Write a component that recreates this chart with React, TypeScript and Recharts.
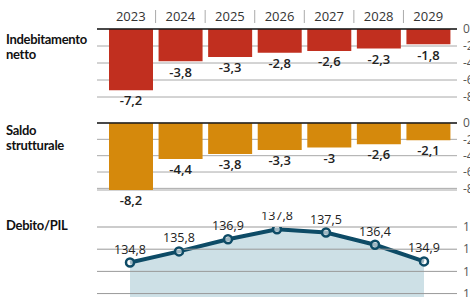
import React from 'react';
import {
  BarChart,
  Bar,
  ComposedChart,
  Area,
  XAxis,
  YAxis,
  CartesianGrid,
  ReferenceLine,
  LabelList,
} from 'recharts';

// Data
const years = ['2023', '2024', '2025', '2026', '2027', '2028', '2029'];
const indebitamento = [-7.2, -3.8, -3.3, -2.8, -2.6, -2.3, -1.8];
const saldoStrutturale = [-8.2, -4.4, -3.8, -3.3, -3, -2.6, -2.1];
const debitoPil = [134.8, 135.8, 136.9, 137.8, 137.5, 136.4, 134.9];
const barTicks = [0, -2, -4, -6, -8];
const debtTicks = [132, 134, 136, 138];

const barData = years.map((year, i) => ({
  year,
  indebitamento: indebitamento[i],
  saldo: saldoStrutturale[i],
}));
const lineData = years.map((year, i) => ({ year, debito: debitoPil[i] }));

const FONT = '"Open Sans", sans-serif';
const RED = '#c12f1f';
const ORANGE = '#d5890c';
const TEAL = '#0d4b66';
const GRID = '#a8a8a8';

const fmt = (v: any) => String(v).replace('.', ',');

// Year header tick with a separator on the right of each label
const YearTick = (props: any) => {
  const { x, y, payload, index } = props;
  return (
    <g>
      <text x={x} y={y} textAnchor="middle" fontSize={13} fill="#333" fontFamily={FONT}>
        {payload.value}
      </text>
      {index < years.length - 1 && (
        <line x1={x + 24.8} x2={x + 24.8} y1={y - 11} y2={y + 2} stroke="#aaa" strokeWidth={1} />
      )}
    </g>
  );
};

const titleStyle: React.CSSProperties = {
  position: 'absolute',
  left: 6,
  fontFamily: 'Lato, sans-serif',
  fontWeight: 700,
  fontSize: 13,
  lineHeight: '15px',
  color: '#111',
  letterSpacing: -0.3,
};

const rightTick = { fontSize: 12, fill: '#555', fontFamily: FONT };

const barLabelStyle = {
  fontSize: 13,
  fontWeight: 600,
  fill: '#222',
  fontFamily: FONT,
};

const App: React.FC = () => {
  return (
    <div
      style={{
        position: 'absolute',
        left: 0,
        top: 0,
        width: 470,
        height: 297,
        overflow: 'hidden',
        background: '#fff',
      }}
    >
      <div style={{ ...titleStyle, top: 32 }}>
        Indebitamento
        <br />
        netto
      </div>
      <div style={{ ...titleStyle, top: 123 }}>
        Saldo
        <br />
        strutturale
      </div>
      <div style={{ ...titleStyle, top: 218 }}>Debito/PIL</div>

      {/* Indebitamento netto */}
      <div style={{ position: 'absolute', left: 0, top: 0 }}>
        <BarChart
          width={470}
          height={110}
          data={barData}
          margin={{ top: 0, right: 0, left: 97, bottom: 13 }}
          barCategoryGap={3}
        >
          <CartesianGrid horizontal vertical={false} stroke={GRID} />
          <XAxis
            dataKey="year"
            orientation="top"
            height={29}
            axisLine={false}
            tickLine={false}
            padding={{ left: 9, right: 4 }}
            tick={<YearTick />}
            interval={0}
          />
          <YAxis
            orientation="right"
            width={13}
            domain={[-8, 0]}
            ticks={barTicks}
            interval={0}
            axisLine={false}
            tickLine={false}
            tickSize={0}
            tickMargin={6}
            tick={rightTick}
          />
          <Bar dataKey="indebitamento" fill={RED} isAnimationActive={false}>
            <LabelList dataKey="indebitamento" position="top" offset={6} formatter={fmt} style={barLabelStyle} />
          </Bar>
          <ReferenceLine y={0} stroke="#1a1a1a" strokeWidth={1.5} />
        </BarChart>
      </div>

      {/* Saldo strutturale */}
      <div style={{ position: 'absolute', left: 0, top: 110 }}>
        <BarChart
          width={470}
          height={102}
          data={barData}
          margin={{ top: 13, right: 0, left: 97, bottom: 22 }}
          barCategoryGap={3}
        >
          <CartesianGrid horizontal vertical={false} stroke={GRID} />
          <XAxis dataKey="year" hide padding={{ left: 9, right: 4 }} />
          <YAxis
            orientation="right"
            width={13}
            domain={[-8, 0]}
            ticks={barTicks}
            interval={0}
            axisLine={false}
            tickLine={false}
            tickSize={0}
            tickMargin={6}
            tick={rightTick}
          />
          <Bar dataKey="saldo" fill={ORANGE} isAnimationActive={false}>
            <LabelList dataKey="saldo" position="top" offset={6} formatter={fmt} style={barLabelStyle} />
          </Bar>
          <ReferenceLine y={0} stroke="#1a1a1a" strokeWidth={1.5} />
        </BarChart>
      </div>

      {/* Debito/PIL */}
      <div style={{ position: 'absolute', left: 0, top: 212 }}>
        <ComposedChart
          width={470}
          height={86}
          data={lineData}
          margin={{ top: 15, right: 0, left: 97, bottom: 0 }}
        >
          <XAxis dataKey="year" hide padding={{ left: 33, right: 33 }} />
          <YAxis
            orientation="right"
            width={13}
            domain={[131.6, 138]}
            ticks={debtTicks}
            interval={0}
            axisLine={false}
            tickLine={false}
            tickSize={0}
            tickMargin={6}
            tick={rightTick}
            allowDataOverflow
          />
          <Area
            type="linear"
            dataKey="debito"
            stroke="none"
            fill="#bcd5dd"
            fillOpacity={0.75}
            isAnimationActive={false}
          />
          {debtTicks.map((t) => (
            <ReferenceLine key={t} y={t} stroke="#999" strokeWidth={1} />
          ))}
          <Area
            type="linear"
            dataKey="debito"
            stroke={TEAL}
            strokeWidth={4}
            fill="none"
            dot={{ r: 4, fill: '#fff', stroke: TEAL, strokeWidth: 2.5 }}
            isAnimationActive={false}
          >
            <LabelList
              dataKey="debito"
              position="top"
              offset={9}
              formatter={fmt}
              style={{ fontSize: 12.5, fontWeight: 500, fill: '#222', fontFamily: FONT }}
            />
          </Area>
        </ComposedChart>
      </div>
    </div>
  );
};

export default App;
